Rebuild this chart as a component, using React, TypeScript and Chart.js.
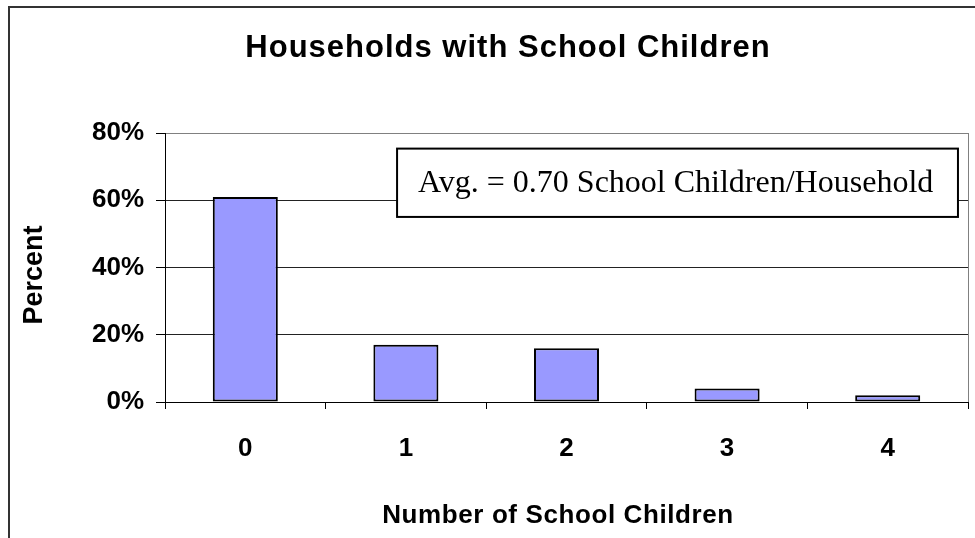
import React, { useEffect, useRef } from "react";
import { Chart, registerables } from "chart.js";

Chart.register(...registerables);

// Share of households by number of school-age children
const categories = ["0", "1", "2", "3", "4"];
const percentValues = [61, 17, 16, 4, 2];
const yTickValues = [0, 20, 40, 60, 80];

const titleText = "Households with School Children";
const xAxisTitle = "Number of School Children";
const yAxisTitle = "Percent";
const noteText = "Avg. = 0.70 School Children/Household";

const SANS = "'Liberation Sans', Arial, sans-serif";
const SERIF = "'Liberation Serif', 'Times New Roman', serif";

const decorations = {
  id: "decorations",
  beforeDraw(chart: any) {
    const { ctx } = chart;
    ctx.save();
    ctx.fillStyle = "#ffffff";
    ctx.fillRect(0, 0, chart.width, chart.height);
    ctx.restore();
  },
  afterDraw(chart: any) {
    const { ctx, chartArea: a } = chart;
    ctx.save();

    // outer frame of the chart object
    ctx.strokeStyle = "#333333";
    ctx.lineWidth = 2;
    ctx.strokeRect(9, 7, chart.width + 20, chart.height + 20);

    // right edge of plot area
    ctx.strokeStyle = "#808080";
    ctx.lineWidth = 1;
    ctx.beginPath();
    ctx.moveTo(a.right + 0.5, a.top);
    ctx.lineTo(a.right + 0.5, a.bottom);
    ctx.stroke();

    ctx.fillStyle = "#000000";
    ctx.textBaseline = "alphabetic";

    // chart title
    ctx.font = `bold 31px ${SANS}`;
    ctx.textAlign = "center";
    (ctx as any).letterSpacing = "1px";
    ctx.fillText(titleText, 508, 57);

    // x axis title
    ctx.font = `bold 26px ${SANS}`;
    (ctx as any).letterSpacing = "0.6px";
    ctx.fillText(xAxisTitle, 558, 523);

    // y axis title
    ctx.save();
    ctx.translate(42, 275);
    ctx.rotate(-Math.PI / 2);
    ctx.font = `bold 27px ${SANS}`;
    (ctx as any).letterSpacing = "0px";
    ctx.fillText(yAxisTitle, 0, 0);
    ctx.restore();

    // note box, placed relative to the plot area
    const w = a.right - a.left;
    const h = a.bottom - a.top;
    const bx = a.left + w * 0.289;
    const by = a.top + h * 0.058;
    const bw = w * 0.6985;
    const bh = h * 0.254;
    ctx.fillStyle = "#ffffff";
    ctx.fillRect(bx, by, bw, bh);
    ctx.strokeStyle = "#000000";
    ctx.lineWidth = 2;
    ctx.strokeRect(bx, by, bw, bh);
    ctx.fillStyle = "#000000";
    ctx.font = `32px ${SERIF}`;
    ctx.textAlign = "left";
    (ctx as any).letterSpacing = "0px";
    ctx.fillText(noteText, bx + 21, by + 43);

    ctx.restore();
  },
};

export default function App() {
  const canvasRef = useRef<HTMLCanvasElement | null>(null);

  useEffect(() => {
    if (!canvasRef.current) return;
    const chart = new Chart(canvasRef.current, {
      type: "bar",
      data: {
        labels: categories,
        datasets: [
          {
            data: percentValues,
            backgroundColor: "#9999FF",
            borderColor: "#000000",
            borderWidth: 2,
            borderSkipped: false,
            barPercentage: 0.405,
            categoryPercentage: 1,
          },
        ],
      },
      options: {
        responsive: false,
        animation: false,
        devicePixelRatio: 1,
        layout: { padding: { top: 133, right: 7, bottom: 0, left: 0 } },
        plugins: {
          legend: { display: false },
          title: { display: false },
          tooltip: { enabled: false },
        },
        scales: {
          x: {
            offset: true,
            grid: {
              offset: true,
              drawOnChartArea: false,
              drawTicks: true,
              tickLength: 7,
              color: "#000000",
            },
            border: { display: true, color: "#000000", width: 1 },
            ticks: {
              color: "#000000",
              padding: 24,
              font: { family: SANS, size: 26, weight: "bold" },
            },
            afterFit(scale: any) {
              scale.height = 136;
            },
          },
          y: {
            min: 0,
            max: 80,
            afterBuildTicks(scale: any) {
              scale.ticks = yTickValues.map((v) => ({ value: v }));
            },
            grid: {
              color: (c: any) => (c.tick && c.tick.value === 80 ? "#808080" : "#222222"),
              tickColor: "#000000",
              tickLength: 9,
              drawTicks: true,
            },
            border: { display: true, color: "#000000", width: 1 },
            ticks: {
              color: "#000000",
              padding: 12,
              font: { family: SANS, size: 26, weight: "bold" },
              callback: (v: any) => `${v}%`,
            },
            afterFit(scale: any) {
              scale.width = 165;
            },
          },
        },
      },
      plugins: [decorations],
    });
    return () => chart.destroy();
  }, []);

  return (
    <div style={{ position: "fixed", left: 0, top: 0, width: 975, height: 538 }}>
      <canvas ref={canvasRef} width={975} height={538} />
    </div>
  );
}
